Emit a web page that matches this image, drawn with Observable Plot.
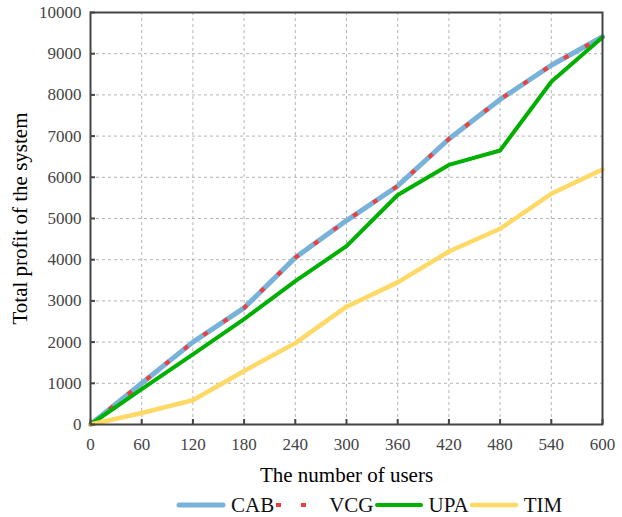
<!DOCTYPE html>
<html>
<head>
<meta charset="utf-8">
<script src="https://cdn.jsdelivr.net/npm/d3@7"></script>
<script src="https://cdn.jsdelivr.net/npm/@observablehq/plot@0.6"></script>
<style>
  html, body { margin: 0; padding: 0; background: #fff; }
  body { width: 622px; height: 517px; position: relative; overflow: hidden;
         font-family: "Liberation Serif", serif; }
  #chart { position: absolute; left: 0; top: 0; }
  #chart svg text { font-family: "Liberation Serif", serif; }
  #chart g[aria-label="x-axis label"] text,
  #chart g[aria-label="y-axis label"] text { font-size: 21px; fill: #000; }
  #legend { position: absolute; left: 176px; top: 494px; display: flex; align-items: center;
            font-size: 21px; color: #111; line-height: 22px; white-space: nowrap; }
  #legend .item { display: flex; align-items: center; }
  #legend svg { display: block; }
  #legend span { margin-left: 5px; }
</style>
</head>
<body>
<div id="chart"></div>
<div id="legend"></div>
<script>
// Number of users on the x axis
const users = [0, 60, 120, 180, 240, 300, 360, 420, 480, 540, 600];

// Total profit of the system for each scheme
const cab = [0, 1000, 2000, 2830, 4050, 4950, 5790, 6930, 7890, 8720, 9410];
const vcg = [0, 1000, 2000, 2830, 4050, 4950, 5790, 6930, 7890, 8720, 9410];
const upa = [0, 860, 1700, 2560, 3480, 4330, 5570, 6300, 6650, 8320, 9400];
const tim = [0, 280, 590, 1300, 1975, 2860, 3450, 4200, 4750, 5600, 6190];

const schemes = ["CAB", "VCG", "UPA", "TIM"];
const values = {CAB: cab, VCG: vcg, UPA: upa, TIM: tim};

const xTicks = users;
const yTicks = [0, 1000, 2000, 3000, 4000, 5000, 6000, 7000, 8000, 9000, 10000];

const styles = {
  CAB: {stroke: "#79b2d8", strokeWidth: 5},
  VCG: {stroke: "#ec3f3f", strokeWidth: 4, strokeDasharray: "5,19"},
  UPA: {stroke: "#00b000", strokeWidth: 4},
  TIM: {stroke: "#ffd966", strokeWidth: 4.5}
};

const rows = schemes.flatMap(s => users.map((u, i) => ({scheme: s, users: u, profit: values[s][i]})));

const lineMarks = schemes.map(s =>
  Plot.line(rows.filter(r => r.scheme === s), {
    x: "users", y: "profit",
    strokeLinejoin: "round",
    strokeLinecap: s === "VCG" ? "butt" : "round",
    ...styles[s]
  })
);

const serif = "Liberation Serif";

const chart = Plot.plot({
  width: 622,
  height: 485,
  marginLeft: 90,
  marginRight: 20,
  marginTop: 12,
  marginBottom: 61,
  style: {fontFamily: serif, background: "#fff", color: "#333"},
  x: {domain: [0, 600]},
  y: {domain: [0, 10000]},
  marks: [
    Plot.gridX(xTicks.filter(d => d > 0 && d < 600), {stroke: "#b5b5b5", strokeOpacity: 1, strokeDasharray: "3,3"}),
    Plot.gridY(yTicks.filter(d => d > 0 && d < 10000), {stroke: "#b5b5b5", strokeOpacity: 1, strokeDasharray: "3,3"}),
    ...lineMarks,
    Plot.frame({stroke: "#444", strokeWidth: 2}),
    Plot.axisX(xTicks, {
      anchor: "bottom", tickSize: -5, tickPadding: 18, fontSize: 17,
      tickFormat: d3.format("d"),
      color: "#444", strokeWidth: 2,
      label: "The number of users", labelAnchor: "center", labelArrow: "none", labelOffset: 57
    }),
    Plot.axisY(yTicks, {
      anchor: "left", tickSize: -5, tickPadding: 14, fontSize: 17,
      tickFormat: d3.format("d"),
      color: "#444", strokeWidth: 2,
      label: "Total profit of the system", labelAnchor: "center", labelArrow: "none", labelOffset: 78
    })
  ]
});
document.getElementById("chart").appendChild(chart);

// Legend below the chart
const legend = d3.select("#legend");
schemes.forEach(s => {
  const item = legend.append("div").attr("class", "item");
  const svg = item.append("svg").attr("width", 50).attr("height", 12);
  svg.append("line")
    .attr("x1", s === "VCG" ? 2 : 3).attr("x2", s === "VCG" ? 50 : 47)
    .attr("y1", 6).attr("y2", 6)
    .attr("stroke", styles[s].stroke)
    .attr("stroke-width", styles[s].strokeWidth)
    .attr("stroke-dasharray", s === "VCG" ? "5,20" : null)
    .attr("stroke-linecap", s === "VCG" ? "butt" : "round");
  item.append("span").text(s);
});
</script>
</body>
</html>
